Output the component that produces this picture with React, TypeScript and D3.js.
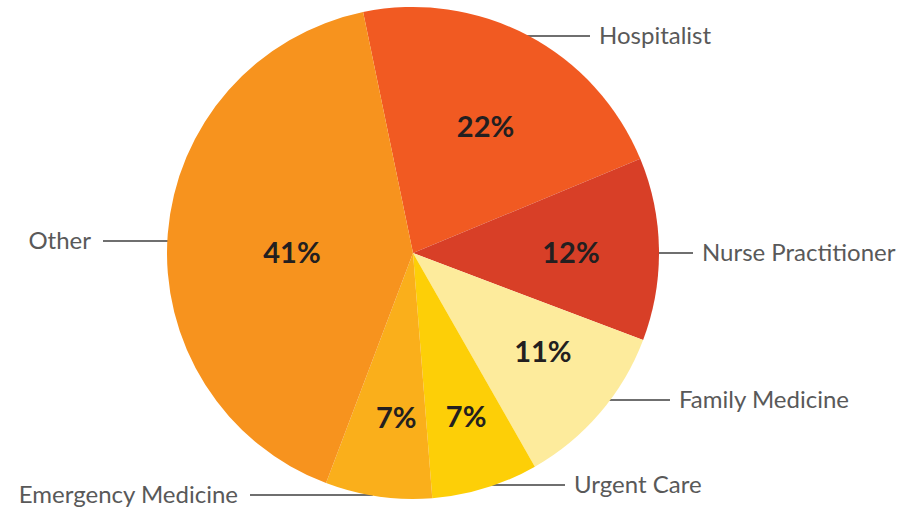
import React from 'react';
import * as d3 from 'd3';

const categories = ['Hospitalist', 'Nurse Practitioner', 'Family Medicine', 'Urgent Care', 'Emergency Medicine', 'Other'];
const shares = [22, 12, 11, 7, 7, 41];
const colors = ['#F15A22', '#D83F27', '#FDEB9C', '#FDCF07', '#FAAF1B', '#F7931E'];

// layout tweaks per slice: label distance / angle shift (deg), leader line y and end x
const labelRadius = [146, 158, 163, 172, 165, 121];
const labelShift = [1.9, 0.7, -3.3, -0.9, -2.3, -4.5];
const leaderY = [36, 253, 400, 485, 495, 241];
const leaderEndX = [590, 693, 670, 565, 250, 103];

const width = 911;
const height = 511;
const cx = 413;
const cy = 253;
const radius = 246;

interface Slice {
  name: string;
  value: number;
  color: string;
}

const App: React.FC = () => {
  const data: Slice[] = categories.map((name, i) => ({ name, value: shares[i], color: colors[i] }));

  const start = (-11.7 * Math.PI) / 180;
  const pie = d3.pie<Slice>()
    .sort(null)
    .value(d => d.value)
    .startAngle(start)
    .endAngle(start + 2 * Math.PI);
  const arcs = pie(data);

  const arc = d3.arc<d3.PieArcDatum<Slice>>().innerRadius(0).outerRadius(radius);

  return (
    <svg width={width} height={height} style={{ position: 'absolute', left: 0, top: 0 }}>
      <g transform={`translate(${cx},${cy})`}>
        {arcs.map((a, i) => {
          const mid = (a.startAngle + a.endAngle) / 2;
          const y0 = leaderY[i] - cy;
          const side = Math.sin(mid) >= 0 ? 1 : -1;
          const x0 = side * Math.sqrt(Math.max(0, radius * radius - y0 * y0)) - side * 4;
          const x1 = leaderEndX[i] - cx;
          const right = x1 > x0;
          return (
            <g key={a.data.name}>
              <line x1={x0} y1={y0} x2={x1} y2={y0} stroke="#6f6f6f" strokeWidth={2} />
              <text
                x={right ? x1 + 9 : x1 - 12}
                y={y0}
                dy="0.35em"
                textAnchor={right ? 'start' : 'end'}
                fontFamily="Lato, 'Noto Sans', sans-serif"
                fontSize={24}
                fill="#595959"
              >
                {a.data.name}
              </text>
            </g>
          );
        })}
        {arcs.map(a => (
          <path key={a.data.name} d={arc(a) || ''} fill={a.data.color} />
        ))}
        {arcs.map((a, i) => {
          const mid = (a.startAngle + a.endAngle) / 2 + (labelShift[i] * Math.PI) / 180;
          const x = Math.sin(mid) * labelRadius[i];
          const y = -Math.cos(mid) * labelRadius[i];
          return (
            <text
              key={a.data.name}
              x={x}
              y={y}
              dy="0.36em"
              textAnchor="middle"
              fontFamily="Lato, 'Noto Sans', sans-serif"
              fontWeight={700}
              fontSize={29}
              fill="#231f20"
            >
              {`${a.data.value}%`}
            </text>
          );
        })}
      </g>
    </svg>
  );
};

export default App;
